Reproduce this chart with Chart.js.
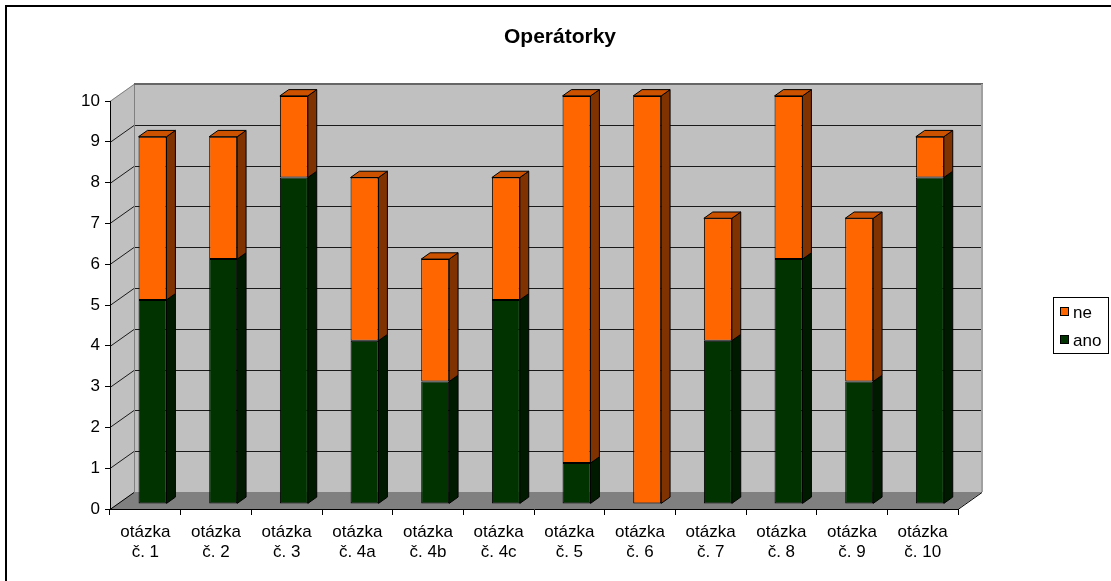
<!DOCTYPE html>
<html>
<head>
<meta charset="utf-8">
<title>Operátorky</title>
<script src="https://cdn.jsdelivr.net/npm/chart.js@4.4.1/dist/chart.umd.min.js"></script>
<style>
  html, body { margin: 0; padding: 0; background: #ffffff; }
  #wrap { width: 1111px; height: 581px; position: relative; }
  canvas { display: block; }
</style>
</head>
<body>
<div id="wrap"><canvas id="chart" width="1111" height="581"></canvas></div>
<script>
// ---- data ----
const chartTitle = 'Operátorky';
const categories = [
  ['otázka', 'č. 1'], ['otázka', 'č. 2'], ['otázka', 'č. 3'], ['otázka', 'č. 4a'],
  ['otázka', 'č. 4b'], ['otázka', 'č. 4c'], ['otázka', 'č. 5'], ['otázka', 'č. 6'],
  ['otázka', 'č. 7'], ['otázka', 'č. 8'], ['otázka', 'č. 9'], ['otázka', 'č. 10']
];
const seriesNames = ['ano', 'ne'];
const anoValues = [5, 6, 8, 4, 3, 5, 1, 0, 4, 6, 3, 8];
const neValues  = [4, 3, 2, 4, 3, 3, 9, 10, 3, 4, 4, 1];
const yAxisMin = 0;
const yAxisMax = 10;
const yAxisStep = 1;

// ---- look ----
const FONT = 'Arial, "Liberation Sans", sans-serif';
const colors = {
  ano: { front: '#003300', side: '#001a00', top: '#002600' },
  ne:  { front: '#ff6600', side: '#803300', top: '#cc5200' }
};
// oblique projection: vector from the front plane to the back wall
const DEPTH = { x: 24, y: -17 };
const BAR_FRONT = 0.3;   // bar front face position within the depth
const BAR_DEPTH = 0.37;  // bar thickness as a share of the depth

Chart.defaults.font.family = FONT;
Chart.defaults.color = '#000';

// walls, floor and gridlines behind the plot
const scenePlugin = {
  id: 'scene3d',
  beforeDraw(chart) {
    const ctx = chart.ctx;
    const { left, right } = chart.chartArea;
    const ys = chart.scales.y;
    const dx = DEPTH.x, dy = DEPTH.y;
    const y0 = Math.round(ys.getPixelForValue(yAxisMin));
    const yTop = Math.round(ys.getPixelForValue(yAxisMax));
    ctx.save();

    // outer frame
    ctx.strokeStyle = '#000';
    ctx.lineWidth = 2;
    ctx.beginPath();
    ctx.moveTo(6, 620);
    ctx.lineTo(6, 6);
    ctx.lineTo(1140, 6);
    ctx.stroke();

    // side wall
    ctx.fillStyle = '#c0c0c0';
    ctx.beginPath();
    ctx.moveTo(left, y0);
    ctx.lineTo(left, yTop);
    ctx.lineTo(left + dx, yTop + dy);
    ctx.lineTo(left + dx, y0 + dy);
    ctx.closePath();
    ctx.fill();
    // back wall
    ctx.fillRect(left + dx, yTop + dy, right - left, y0 - yTop);
    // floor
    ctx.fillStyle = '#808080';
    ctx.beginPath();
    ctx.moveTo(left, y0);
    ctx.lineTo(right, y0);
    ctx.lineTo(right + dx, y0 + dy);
    ctx.lineTo(left + dx, y0 + dy);
    ctx.closePath();
    ctx.fill();

    // gridlines
    ctx.lineWidth = 1;
    ctx.strokeStyle = '#1a1a1a';
    for (let v = yAxisMin + yAxisStep; v < yAxisMax; v += yAxisStep) {
      const y = Math.round(ys.getPixelForValue(v)) + 0.5;
      ctx.beginPath();
      ctx.moveTo(left, y);
      ctx.lineTo(left + dx, y + dy);
      ctx.lineTo(right + dx, y + dy);
      ctx.stroke();
    }
    // floor edges
    ctx.strokeStyle = '#000';
    ctx.beginPath();
    ctx.moveTo(left, y0 + 0.5);
    ctx.lineTo(left + dx, y0 + dy + 0.5);
    ctx.moveTo(right, y0 + 0.5);
    ctx.lineTo(right + dx, y0 + dy + 0.5);
    ctx.stroke();

    // wall edges
    ctx.strokeStyle = '#808080';
    ctx.beginPath();
    ctx.moveTo(left, yTop + 0.5);
    ctx.lineTo(left + dx, yTop + dy + 0.5);
    ctx.moveTo(left + dx + 0.5, yTop + dy);
    ctx.lineTo(left + dx + 0.5, y0 + dy);
    ctx.stroke();
    ctx.strokeStyle = '#666666';
    ctx.lineWidth = 2;
    ctx.beginPath();
    ctx.moveTo(left + dx, yTop + dy);
    ctx.lineTo(right + dx + 1, yTop + dy);
    ctx.stroke();
    ctx.strokeStyle = '#a0a0a0';
    ctx.beginPath();
    ctx.moveTo(right + dx, yTop + dy);
    ctx.lineTo(right + dx, y0 + dy);
    ctx.stroke();

    ctx.restore();
  },
  beforeDatasetsDraw(chart) {
    chart.ctx.save();
    chart.ctx.translate(BAR_FRONT * DEPTH.x, BAR_FRONT * DEPTH.y);
  },
  afterDatasetsDraw(chart) {
    const ctx = chart.ctx;
    const bdx = BAR_DEPTH * DEPTH.x, bdy = BAR_DEPTH * DEPTH.y;
    const metas = chart.data.datasets.map((d, i) => chart.getDatasetMeta(i));
    ctx.lineWidth = 1;
    ctx.strokeStyle = '#000';
    ctx.lineJoin = 'miter';
    metas.forEach((meta, di) => {
      const c = colors[seriesNames[di]];
      meta.data.forEach((bar, i) => {
        const p = bar.getProps(['x', 'y', 'base', 'width'], true);
        if (Math.abs(p.base - p.y) < 0.5) return;
        const xr = p.x + p.width / 2, xl = p.x - p.width / 2;
        // right side face
        ctx.fillStyle = c.side;
        ctx.beginPath();
        ctx.moveTo(xr, p.y);
        ctx.lineTo(xr + bdx, p.y + bdy);
        ctx.lineTo(xr + bdx, p.base + bdy);
        ctx.lineTo(xr, p.base);
        ctx.closePath();
        ctx.fill();
        ctx.stroke();
        // top face only on the highest visible segment
        const higher = metas.slice(di + 1).some((m, k) => chart.data.datasets[di + 1 + k].data[i] > 0);
        if (!higher) {
          ctx.fillStyle = c.top;
          ctx.beginPath();
          ctx.moveTo(xl, p.y);
          ctx.lineTo(xl + bdx, p.y + bdy);
          ctx.lineTo(xr + bdx, p.y + bdy);
          ctx.lineTo(xr, p.y);
          ctx.closePath();
          ctx.fill();
          ctx.stroke();
        }
      });
    });
    ctx.restore();
  },
  afterDraw(chart) {
    const ctx = chart.ctx;
    ctx.save();
    // title
    ctx.fillStyle = '#000';
    ctx.font = 'bold 21px ' + FONT;
    ctx.textAlign = 'center';
    ctx.textBaseline = 'alphabetic';
    ctx.fillText(chartTitle, 560, 43);

    // legend (top series listed first)
    ctx.strokeStyle = '#000';
    ctx.lineWidth = 1;
    ctx.strokeRect(1053.5, 297.5, 55, 56);
    ctx.font = '17px ' + FONT;
    ctx.textAlign = 'left';
    ctx.textBaseline = 'middle';
    const order = [1, 0];
    order.forEach((di, row) => {
      const ds = chart.data.datasets[di];
      const yc = 312 + row * 28;
      ctx.fillStyle = ds.backgroundColor;
      ctx.fillRect(1060.5, yc - 4.5, 8, 8);
      ctx.strokeRect(1060.5, yc - 4.5, 8, 8);
      ctx.fillStyle = '#000';
      ctx.fillText(ds.label, 1073, yc + 1);
    });
    ctx.restore();
  }
};

new Chart(document.getElementById('chart'), {
  type: 'bar',
  data: {
    labels: categories,
    datasets: [
      { label: seriesNames[0], data: anoValues, backgroundColor: colors.ano.front },
      { label: seriesNames[1], data: neValues,  backgroundColor: colors.ne.front }
    ]
  },
  options: {
    responsive: false,
    animation: false,
    devicePixelRatio: 1,
    layout: { padding: { left: 0, top: 101, right: 153, bottom: 0 } },
    datasets: {
      bar: {
        borderColor: '#000',
        borderWidth: 1,
        borderSkipped: false,
        categoryPercentage: 1,
        barPercentage: 0.396,
        clip: false
      }
    },
    plugins: {
      legend: { display: false },
      title: { display: false },
      tooltip: { enabled: false }
    },
    scales: {
      x: {
        stacked: true,
        offset: true,
        grid: { display: true, drawOnChartArea: false, drawTicks: true, tickLength: 6, color: '#000', offset: true },
        border: { display: true, color: '#000', width: 1 },
        ticks: { font: { size: 17, lineHeight: 1.18 }, color: '#000', padding: 7, maxRotation: 0, autoSkip: false },
        afterFit(scale) { scale.height = 72; }
      },
      y: {
        stacked: true,
        min: yAxisMin,
        max: yAxisMax,
        grid: { display: true, drawOnChartArea: false, drawTicks: true, tickLength: 5, color: '#000' },
        border: { display: true, color: '#000', width: 1 },
        ticks: { stepSize: yAxisStep, font: { size: 17 }, color: '#000', padding: 5 },
        afterFit(scale) { scale.width = 110; }
      }
    }
  },
  plugins: [scenePlugin]
});
</script>
</body>
</html>
